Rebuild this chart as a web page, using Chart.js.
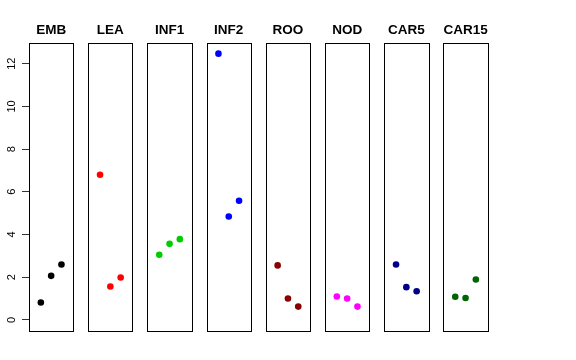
<!DOCTYPE html>
<html>
<head>
<meta charset="utf-8">
<script src="https://cdn.jsdelivr.net/npm/chart.js@4"></script>
<style>
    body { margin: 0; background: #fff; }
    #wrap { position: relative; width: 576px; height: 360px; }
    #wrap canvas { position: absolute; left: 0; top: 0; }
</style>
</head>
<body>
<div id="wrap"></div>
<script>
// 面板名称
const panelNames = ['EMB', 'LEA', 'INF1', 'INF2', 'ROO', 'NOD', 'CAR5', 'CAR15'];

// 每个面板内的三个点的位置
const replicates = [1, 2, 3];

// 各面板数值
const embValues = [0.81, 2.06, 2.59];
const leaValues = [6.80, 1.56, 1.98];
const inf1Values = [3.05, 3.56, 3.78];
const inf2Values = [12.47, 4.84, 5.58];
const rooValues = [2.55, 1.00, 0.62];
const nodValues = [1.09, 1.00, 0.62];
const car5Values = [2.59, 1.53, 1.34];
const car15Values = [1.08, 1.02, 1.89];
const panelValues = [embValues, leaValues, inf1Values, inf2Values, rooValues, nodValues, car5Values, car15Values];

// 颜色
const panelColors = ['#000000', '#FF0000', '#00CD00', '#0000FF', '#8B0000', '#FF00FF', '#00008B', '#006400'];

// y 轴刻度
const yTicks = [0, 2, 4, 6, 8, 10, 12];

// 布局
const W = 576, H = 360;
const firstLeft = 29, pitch = 59.2, boxWidth = 44.3;
const boxTop = 43, boxBottom = 330.5;

// 画边框和标题
const boxPlugin = {
    id: 'box',
    afterDraw(chart, args, opts) {
        const { ctx, chartArea } = chart;
        ctx.save();
        ctx.strokeStyle = '#000';
        ctx.lineWidth = 1;
        const l = Math.round(chartArea.left) + 0.5;
        const r = Math.round(chartArea.right) + 0.5;
        const t = Math.round(chartArea.top) + 0.5;
        const b = Math.round(chartArea.bottom) + 0.5;
        ctx.strokeRect(l, t, r - l, b - t);
        ctx.fillStyle = '#000';
        ctx.font = 'bold 13.5px "Liberation Sans", Arial, sans-serif';
        ctx.textAlign = 'center';
        ctx.textBaseline = 'alphabetic';
        ctx.fillText(opts.title, (chartArea.left + chartArea.right) / 2, 34);
        ctx.restore();
    }
};

function createPanel(i) {
    const canvas = document.createElement('canvas');
    canvas.width = W;
    canvas.height = H;
    document.getElementById('wrap').appendChild(canvas);

    const left = firstLeft + pitch * i;
    const isFirst = i === 0;

    const yScale = {
        type: 'linear',
        display: isFirst,
        min: -0.5,
        max: 12.97,
        afterBuildTicks: scale => {
            scale.ticks = yTicks.map(v => ({ value: v }));
        },
        border: { display: false },
        grid: {
            drawOnChartArea: false,
            tickLength: 7,
            color: '#333'
        },
        ticks: {
            minRotation: 90,
            maxRotation: 90,
            crossAlign: 'center',
            padding: 4,
            color: '#000',
            font: { family: '"Liberation Sans", Arial, sans-serif', size: 11 }
        }
    };
    if (isFirst) {
        yScale.afterFit = scale => {
            scale.width = firstLeft;
        };
    }

    new Chart(canvas.getContext('2d'), {
        type: 'scatter',
        data: {
            datasets: [{
                data: replicates.map((x, k) => ({ x: x, y: panelValues[i][k] })),
                backgroundColor: panelColors[i],
                borderColor: panelColors[i],
                pointRadius: 3.3,
                borderWidth: 0
            }]
        },
        options: {
            responsive: false,
            animation: false,
            events: [],
            layout: {
                padding: {
                    left: isFirst ? 0 : left,
                    right: W - left - boxWidth,
                    top: boxTop,
                    bottom: H - boxBottom
                }
            },
            plugins: {
                legend: { display: false },
                tooltip: { enabled: false },
                box: { title: panelNames[i] }
            },
            scales: {
                x: {
                    type: 'linear',
                    display: false,
                    min: -0.15,
                    max: 4.15
                },
                y: yScale
            }
        },
        plugins: [boxPlugin]
    });
}

document.addEventListener('DOMContentLoaded', () => {
    panelNames.forEach((name, i) => createPanel(i));
});
</script>
</body>
</html>
